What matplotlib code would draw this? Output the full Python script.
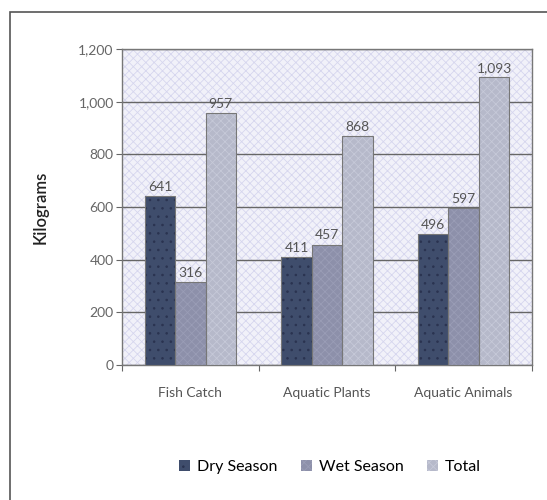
import numpy as np
import matplotlib
matplotlib.use('Agg')
import matplotlib.pyplot as plt
from matplotlib.patches import Rectangle


categories = ['Fish Catch', 'Aquatic Plants', 'Aquatic Animals']
series_names = ['Dry Season', 'Wet Season', 'Total']
dry = [641, 411, 496]
wet = [316, 457, 597]
total = [957, 868, 1093]
y_ticks = [0, 200, 400, 600, 800, 1000, 1200]


def main():
	plt.rcParams['font.family'] = ['Lato', 'DejaVu Sans']
	plt.rcParams['hatch.linewidth'] = 0.6

	fig = plt.figure(figsize=(5.47, 5.0), dpi=100)
	# outer border of the chart area
	fig.patches.append(Rectangle((10 / 547, -0.01), 1.0, 1 - 12 / 500 + 0.01,
		transform=fig.transFigure, fill=False, edgecolor='#555555', linewidth=1.2))

	ax = fig.add_axes([122 / 547, 1 - 365 / 500, 410 / 547, 316 / 500])
	ax.set_facecolor('#f1f1f9')
	ax.add_patch(Rectangle((0, 0), 1, 1, transform=ax.transAxes, facecolor='none',
		edgecolor='#d6d6ee', hatch='xxxx', linewidth=0, zorder=0))

	x = np.arange(len(categories))
	w = 0.222
	colors = ['#3f4d6c', '#8d90aa', '#b6b9ca']
	hatches = ['..', 'xxxx', 'xxxx']
	hatch_cols = ['#2a3350', '#9a9db6', '#c6c9d8']
	all_vals = [dry, wet, total]

	for i, vals in enumerate(all_vals):
		pos = x + (i - 1) * w
		bars = ax.bar(pos, vals, w, color=colors[i], edgecolor=hatch_cols[i],
			hatch=hatches[i], linewidth=0, label=series_names[i], zorder=3)
		# gray outline
		ax.bar(pos, vals, w, color='none', edgecolor='#777777', linewidth=0.8, zorder=4)
		for b, v in zip(bars, vals):
			ax.text(b.get_x() + b.get_width() / 2, v + 12, f'{v:,}', ha='center', va='bottom',
				fontsize=10, color='#555555', zorder=5)

	ax.set_xlim(-0.5, 2.5)
	ax.set_ylim(0, 1200)
	ax.set_yticks(y_ticks)
	ax.set_yticklabels([f'{t:,}' for t in y_ticks], fontsize=10, color='#666666')
	ax.yaxis.grid(True, color='#666666', linewidth=1.0, zorder=1)
	ax.set_axisbelow(True)

	ax.set_xticks([-0.5, 0.5, 1.5, 2.5])
	ax.set_xticklabels([])
	ax.set_xticks(x, minor=True)
	ax.set_xticklabels(categories, minor=True, fontsize=10, color='#555555')
	ax.tick_params(axis='x', which='minor', length=0, pad=16)
	ax.tick_params(axis='x', which='major', length=4, color='#666666')
	ax.tick_params(axis='y', length=4, color='#666666', pad=2)

	for s in ax.spines.values():
		s.set_color('#777777')
		s.set_linewidth(1.0)

	ax.set_ylabel('Kilograms', fontsize=12, color='#222222', fontweight='semibold')
	ax.yaxis.set_label_coords(-0.178, 0.5)

	fig.legend(loc='center', bbox_to_anchor=(330 / 547, 1 - 467 / 500), ncol=3,
		frameon=False, fontsize=11.5, handlelength=0.7, handleheight=0.7,
		handletextpad=0.4, columnspacing=1.5)

	fig.savefig('out.png', dpi=100)


if __name__ == '__main__':
	main()
